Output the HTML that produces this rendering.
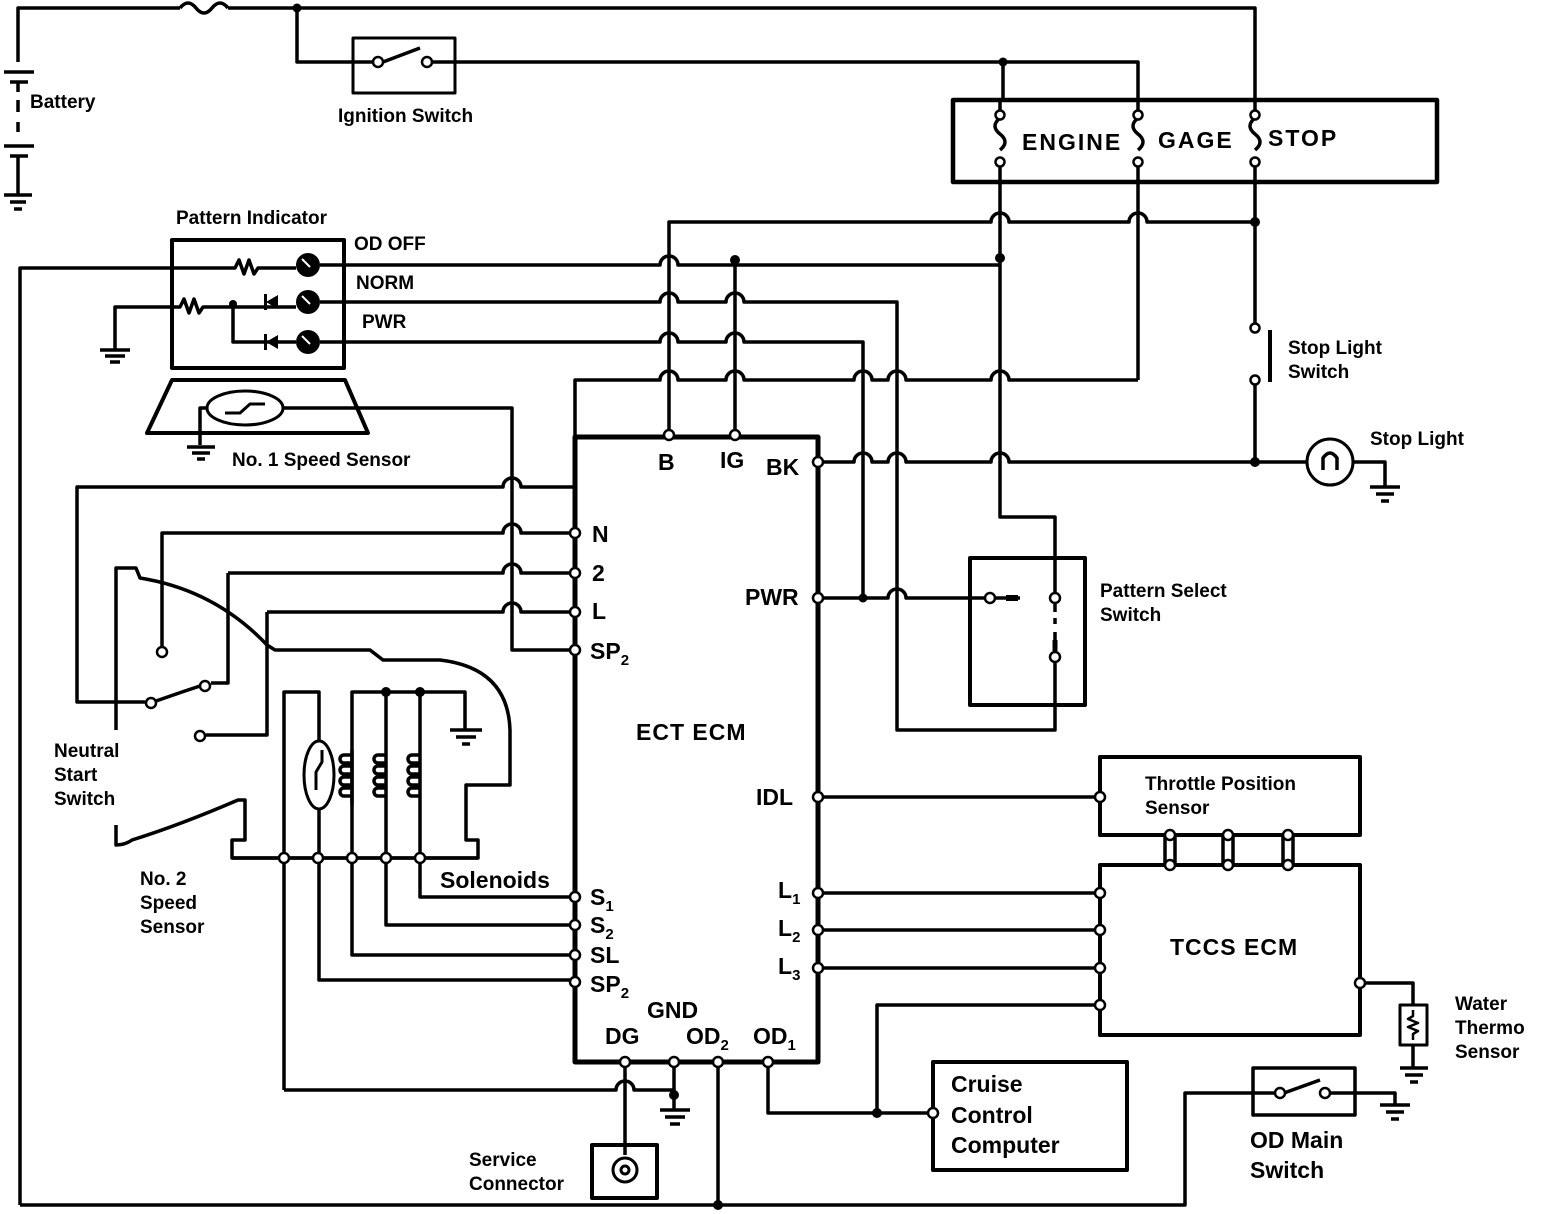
<!DOCTYPE html>
<html><head><meta charset="utf-8"><style>
html,body{margin:0;padding:0;background:#fff}
svg{display:block}
text{font-family:"Liberation Sans",sans-serif;font-weight:bold;fill:#000}
</style></head><body>
<svg width="1568" height="1214" viewBox="0 0 1568 1214" xmlns="http://www.w3.org/2000/svg">
<g fill="none" stroke="#000" stroke-width="3.5" stroke-linejoin="round">
<!-- battery -->
<path d="M18 62 V8 H180"/>
<path d="M180 8 q8 -10 16 0 q8 10 16 0 q8 -10 16 0" />
<path d="M228 8 H1255 V100"/>
<path d="M4 72 H34 M10 82 H28 M18 82 V92 M18 100 V112 M18 122 V132 M4 146 H34 M10 156 H28 M18 156 V195 M4 195 H32 M10 202 H26 M14 209 H22"/>
<!-- ignition -->
<path d="M297 8 V62 H372 M433 62 H1138 V100 M1003 62 V100"/>
<rect x="353" y="38" width="102" height="55" stroke-width="3"/>
<path d="M383 62 L420 48"/>
<!-- fuse box -->
<rect x="953" y="100" width="484" height="82" stroke-width="4.5"/>
<path d="M1000 100 V112 M1000 158 V182 M1000 118 q-10 8 0 16 q10 8 0 16 M1138 100 V112 M1138 158 V182 M1138 118 q-10 8 0 16 q10 8 0 16 M1255 100 V112 M1255 158 V182 M1255 118 q-10 8 0 16 q10 8 0 16"/>
<!-- verticals below fuse box -->
<path d="M1000 182 V517 H1055 V592"/>
<path d="M1138 182 V380"/>
<path d="M1255 182 V326 M1255 384 V462"/>
<path d="M1270 330 V382" stroke-width="4"/>
<!-- B line y=222 -->
<path d="M669 435 V222 H991 a9 9 0 0 1 18 0 H1129 a9 9 0 0 1 18 0 H1255"/>
<!-- OD OFF line y=260 -->
<path d="M20 1205 V268 H235 l4 -8 l5 14 l5 -14 l5 14 l4 -6 H296 M320 265 H660 a9 9 0 0 1 18 0 H1000"/>
<path d="M735 258 V435"/>
<!-- NORM y=300 -->
<path d="M320 302 H660 a9 9 0 0 1 18 0 H726 a9 9 0 0 1 18 0 H897 V730 H1055 V663"/>
<!-- PWR y=340 -->
<path d="M320 342 H660 a9 9 0 0 1 18 0 H726 a9 9 0 0 1 18 0 H863 V598"/>
<!-- y=380 line -->
<path d="M1138 380 H1009 a9 9 0 0 0 -18 0 H906 a9 9 0 0 0 -18 0 H872 a9 9 0 0 0 -18 0 H744 a9 9 0 0 0 -18 0 H678 a9 9 0 0 0 -18 0 H575 V487 H521 a9 9 0 0 0 -18 0 H77 V702 H145"/>
<!-- BK line -->
<path d="M824 462 H854 a9 9 0 0 1 18 0 H888 a9 9 0 0 1 18 0 H991 a9 9 0 0 1 18 0 H1307"/>
<!-- stop light -->
<circle cx="1330" cy="462" r="23" stroke-width="3"/>
<path d="M1323 470 V458 q7 -10 14 0 V470"/>
<path d="M1353 462 H1385 V487 M1370 487 H1400 M1376 494 H1394 M1381 501 H1389"/>
<!-- pattern indicator -->
<rect x="172" y="240" width="172" height="128" stroke-width="4"/>
<path d="M115 350 V307 H180 l4 -8 l5 14 l5 -14 l5 14 l4 -6 H296 M233 302 V342 H296"/>
<path d="M100 350 H130 M105 356 H125 M110 362 H120"/>
<!-- speed sensor 1 -->
<path d="M147 433 L172 380 H345 L368 433 Z" stroke-width="4"/>
<ellipse cx="245" cy="408" rx="38" ry="17" stroke-width="3"/>
<path d="M225 413 H240 L250 404 H265" stroke-width="3"/>
<path d="M200 445 V408 H207 M283 408 H512 V650 H575"/>
<path d="M187 447 H215 M192 453 H210 M197 459 H205"/>
<!-- N,2,L lines -->
<path d="M162 648 V533 H503 a9 9 0 0 1 18 0 H570"/>
<path d="M228 573 H503 a9 9 0 0 1 18 0 H570 M228 573 V683 H211"/>
<path d="M267 612 H503 a9 9 0 0 1 18 0 H570 M267 612 V735 H206"/>
<path d="M156 701 L182 692 L200 686"/>
<!-- NSS housing -->
<path d="M116 730 V568 H136 L140 578 Q215 590 267 645 L275 650 H370 L383 660 H440 Q508 668 510 730 V785 H466 V840 H478 V858 H232 V840 H245 V800 L238 800 Q180 825 132 840 Q125 845 116 845 V825"/>
<!-- solenoids -->
<path d="M232 858 H478"/>
<path d="M284 1090 V692 H319 V742 M319 808 V980 H570"/>
<ellipse cx="319" cy="775" rx="15" ry="34" stroke-width="3"/>
<path d="M316 790 V772 L322 762 V750" stroke-width="3"/>
<path d="M352 955 V692 H465 V730 M352 692 V750 M352 805 V955 H570"/>
<path d="M386 692 V750 M386 805 V925 H570 M420 692 V750 M420 805 V897 H570"/>
<path d="M352 755 h-8 a4 4 0 0 0 0 8 h8 M352 766 h-8 a4 4 0 0 0 0 8 h8 M352 777 h-8 a4 4 0 0 0 0 8 h8 M352 788 h-8 a4 4 0 0 0 0 8 h8
M386 755 h-8 a4 4 0 0 0 0 8 h8 M386 766 h-8 a4 4 0 0 0 0 8 h8 M386 777 h-8 a4 4 0 0 0 0 8 h8 M386 788 h-8 a4 4 0 0 0 0 8 h8
M420 755 h-8 a4 4 0 0 0 0 8 h8 M420 766 h-8 a4 4 0 0 0 0 8 h8 M420 777 h-8 a4 4 0 0 0 0 8 h8 M420 788 h-8 a4 4 0 0 0 0 8 h8"/>
<path d="M352 750 V805 M386 750 V805 M420 750 V805"/>
<path d="M450 730 H482 M456 737 H476 M462 744 H470"/>
<!-- ECT box -->
<path d="M575 1062 V437 H818 V1062 Z" stroke-width="5"/>
<!-- bottom of ECT -->
<path d="M284 1090 H616 a9 9 0 0 1 18 0 H674 M625 1062 V1155 M674 1062 V1110 M660 1110 H690 M665 1117 H685 M670 1124 H680"/>
<rect x="592" y="1145" width="65" height="53" stroke-width="4"/>
<circle cx="625" cy="1170" r="12" stroke-width="3"/><circle cx="625" cy="1170" r="4" stroke-width="3"/>
<path d="M718 1062 V1205 M20 1205 H1185 V1093 H1253"/>
<path d="M768 1062 V1113 H933 M877 1113 V1005 H1100"/>
<rect x="933" y="1062" width="194" height="108" stroke-width="4"/>
<!-- right side -->
<path d="M818 598 H888 a9 9 0 0 1 18 0 H990"/>
<rect x="970" y="558" width="115" height="147" stroke-width="4"/>
<path d="M996 598 H1020 M1061 598 H1049 M1055 604 V612 M1055 618 V624 M1055 632 V651"/>
<path d="M1055 651 V640" stroke-width="5"/>
<path d="M1006 598 H1018" stroke-width="6"/>
<path d="M818 797 H1100 M818 893 H1100 M818 930 H1100 M818 968 H1100"/>
<rect x="1100" y="757" width="260" height="78" stroke-width="4"/>
<rect x="1100" y="865" width="260" height="170" stroke-width="4"/>
<path d="M1165 835 V865 M1175 835 V865 M1223 835 V865 M1233 835 V865 M1283 835 V865 M1293 835 V865"/>
<path d="M1360 983 H1413 V1005 M1413 1045 V1068 M1400 1068 H1428 M1405 1075 H1423 M1410 1082 H1418"/>
<rect x="1400" y="1005" width="27" height="40" stroke-width="3"/>
<path d="M1413 1010 V1016 l-5 3 l10 4 l-10 4 l10 4 l-5 3 V1040" stroke-width="2.5"/>
<rect x="1253" y="1068" width="102" height="47" stroke-width="3.5"/>
<path d="M1253 1093 H1274 M1331 1093 H1395 V1105 M1380 1105 H1410 M1386 1112 H1404 M1391 1119 H1399 M1284 1093 L1320 1080"/>
</g>
<!-- filled dots & lamps -->
<g fill="#000">
<circle cx="297" cy="8" r="4.5"/><circle cx="1003" cy="62" r="4.5"/><circle cx="1255" cy="222" r="5"/>
<circle cx="735" cy="260" r="5"/><circle cx="1000" cy="258" r="5"/><circle cx="1255" cy="462" r="5"/>
<circle cx="863" cy="598" r="4.5"/><circle cx="233" cy="304" r="4"/>
<circle cx="386" cy="692" r="5"/><circle cx="420" cy="692" r="5"/>
<circle cx="674" cy="1095" r="5"/><circle cx="718" cy="1205" r="5"/><circle cx="877" cy="1113" r="5"/>
<circle cx="308" cy="265" r="12"/><circle cx="308" cy="302" r="12"/><circle cx="308" cy="342" r="12"/>
<path d="M266 302 L278 295 V309 Z M266 342 L278 335 V349 Z"/>
<rect x="264" y="294" width="3" height="16"/><rect x="264" y="334" width="3" height="16"/>
</g>
<g fill="#fff">
<path d="M302 259 l8 8 M302 296 l8 8 M302 336 l8 8" stroke="#fff" stroke-width="2"/>
</g>
<!-- open circles -->
<g fill="#fff" stroke="#000" stroke-width="2.5">
<circle cx="378" cy="62" r="5"/><circle cx="427" cy="62" r="5"/>
<circle cx="1000" cy="115" r="4.5"/><circle cx="1000" cy="162" r="4.5"/>
<circle cx="1138" cy="115" r="4.5"/><circle cx="1138" cy="162" r="4.5"/>
<circle cx="1255" cy="115" r="4.5"/><circle cx="1255" cy="162" r="4.5"/>
<circle cx="1255" cy="328" r="4.5"/><circle cx="1255" cy="380" r="4.5"/>
<circle cx="669" cy="435" r="5"/><circle cx="735" cy="435" r="5"/><circle cx="818" cy="462" r="5"/>
<circle cx="575" cy="533" r="5"/><circle cx="575" cy="573" r="5"/><circle cx="575" cy="612" r="5"/><circle cx="575" cy="650" r="5"/>
<circle cx="818" cy="598" r="5"/><circle cx="818" cy="797" r="5"/>
<circle cx="818" cy="893" r="5"/><circle cx="818" cy="930" r="5"/><circle cx="818" cy="968" r="5"/>
<circle cx="575" cy="897" r="5"/><circle cx="575" cy="925" r="5"/><circle cx="575" cy="955" r="5"/><circle cx="575" cy="982" r="5"/>
<circle cx="625" cy="1062" r="5"/><circle cx="674" cy="1062" r="5"/><circle cx="718" cy="1062" r="5"/><circle cx="768" cy="1062" r="5"/>
<circle cx="162" cy="652" r="5"/><circle cx="151" cy="703" r="5"/><circle cx="205" cy="686" r="5"/><circle cx="200" cy="736" r="5"/>
<circle cx="284" cy="858" r="5"/><circle cx="318" cy="858" r="5"/><circle cx="352" cy="858" r="5"/><circle cx="386" cy="858" r="5"/><circle cx="420" cy="858" r="5"/>
<circle cx="990" cy="598" r="5"/><circle cx="1055" cy="598" r="5"/><circle cx="1055" cy="657" r="5"/>
<circle cx="1100" cy="797" r="5"/><circle cx="1100" cy="893" r="5"/><circle cx="1100" cy="930" r="5"/><circle cx="1100" cy="968" r="5"/><circle cx="1100" cy="1005" r="5"/>
<circle cx="1170" cy="835" r="5"/><circle cx="1228" cy="835" r="5"/><circle cx="1288" cy="835" r="5"/>
<circle cx="1170" cy="865" r="5"/><circle cx="1228" cy="865" r="5"/><circle cx="1288" cy="865" r="5"/>
<circle cx="1360" cy="983" r="5"/><circle cx="933" cy="1113" r="5"/>
<circle cx="1280" cy="1093" r="5"/><circle cx="1325" cy="1093" r="5"/>
</g>
<!-- labels -->
<g font-size="19">
<text x="30" y="108">Battery</text>
<text x="338" y="122">Ignition Switch</text>
<text x="176" y="224">Pattern Indicator</text>
<text x="354" y="250">OD OFF</text>
<text x="356" y="289">NORM</text>
<text x="362" y="328">PWR</text>
<text x="232" y="466">No. 1 Speed Sensor</text>
<text x="1288" y="354">Stop Light</text>
<text x="1288" y="378">Switch</text>
<text x="1370" y="445">Stop Light</text>
<text x="1100" y="597">Pattern Select</text>
<text x="1100" y="621">Switch</text>
<text x="1145" y="790">Throttle Position</text>
<text x="1145" y="814">Sensor</text>
<text x="54" y="757">Neutral</text>
<text x="54" y="781">Start</text>
<text x="54" y="805">Switch</text>
<text x="140" y="885">No. 2</text>
<text x="140" y="909">Speed</text>
<text x="140" y="933">Sensor</text>
<text x="1455" y="1010">Water</text>
<text x="1455" y="1034">Thermo</text>
<text x="1455" y="1058">Sensor</text>
<text x="469" y="1166">Service</text>
<text x="469" y="1190">Connector</text>
</g>
<g font-size="23" font-weight="normal" style="font-weight:normal">
<text x="1022" y="150" style="letter-spacing:2px">ENGINE</text>
<text x="1158" y="148" style="letter-spacing:2px">GAGE</text>
<text x="1268" y="146" style="letter-spacing:2px">STOP</text>
<text x="658" y="470">B</text>
<text x="720" y="468">IG</text>
<text x="766" y="475">BK</text>
<text x="592" y="542">N</text>
<text x="592" y="581">2</text>
<text x="592" y="619">L</text>
<text x="590" y="659">SP<tspan font-size="15" dy="6">2</tspan></text>
<text x="745" y="605">PWR</text>
<text x="636" y="740" style="letter-spacing:1px">ECT ECM</text>
<text x="756" y="805">IDL</text>
<text x="440" y="888">Solenoids</text>
<text x="590" y="905">S<tspan font-size="15" dy="6">1</tspan></text>
<text x="590" y="933">S<tspan font-size="15" dy="6">2</tspan></text>
<text x="590" y="963">SL</text>
<text x="590" y="992">SP<tspan font-size="15" dy="6">2</tspan></text>
<text x="778" y="898">L<tspan font-size="15" dy="6">1</tspan></text>
<text x="778" y="936">L<tspan font-size="15" dy="6">2</tspan></text>
<text x="778" y="974">L<tspan font-size="15" dy="6">3</tspan></text>
<text x="1170" y="955" style="letter-spacing:1px">TCCS ECM</text>
<text x="647" y="1018">GND</text>
<text x="605" y="1044">DG</text>
<text x="686" y="1044">OD<tspan font-size="15" dy="6">2</tspan></text>
<text x="753" y="1044">OD<tspan font-size="15" dy="6">1</tspan></text>
<text x="951" y="1092">Cruise</text>
<text x="951" y="1123">Control</text>
<text x="951" y="1153">Computer</text>
<text x="1250" y="1148">OD Main</text>
<text x="1250" y="1178">Switch</text>
</g>
</svg>
</body></html>
